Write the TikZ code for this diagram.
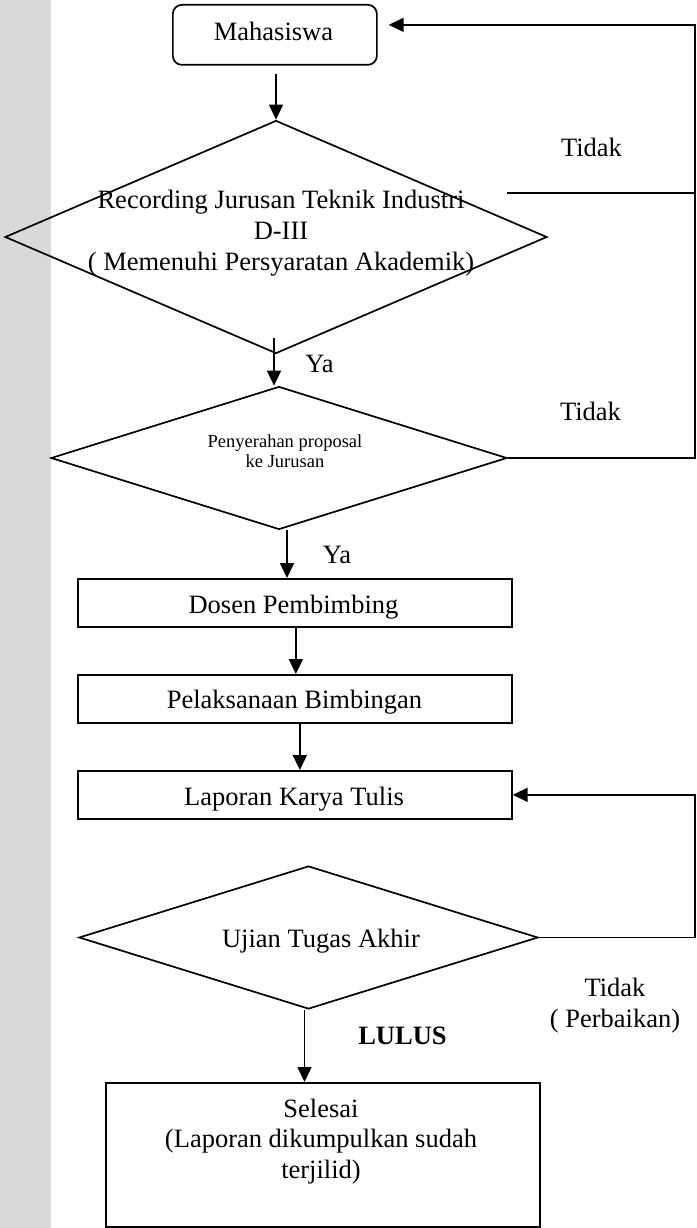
\documentclass[tikz,border=0pt]{standalone}
\usepackage{fontspec}
\setmainfont{Liberation Serif}
\usetikzlibrary{shapes.geometric,arrows.meta}
\definecolor{strip}{HTML}{D9D9D9}

\begin{document}
\begin{tikzpicture}[x=1pt,y=-1pt,
  every node/.style={font=\fontsize{26.5}{31}\selectfont},
  line/.style={line width=1.7pt},
  arr/.style={line width=1.7pt,-{Triangle[length=15pt,width=14pt]}},
  box/.style={draw,line width=1.7pt,rectangle,inner sep=0pt,anchor=north west},
  dec/.style={draw,line width=1.7pt,diamond,inner sep=0pt},
  txt/.style={align=center,inner sep=0pt,anchor=base}]

% page and left margin strip
\fill[white] (0,0) rectangle (696,1228);
\fill[strip] (0,0) rectangle (51,1228);

% shapes
\node[box,rounded corners=9pt,minimum width=204pt,minimum height=60pt] (m) at (172,4) {};
\node[dec,minimum width=542pt,minimum height=233pt] (d1) at (276,237) {};
\node[dec,minimum width=456pt,minimum height=143pt] (d2) at (279,458) {};
\node[box,minimum width=434pt,minimum height=48pt] (dosen) at (77,578) {};
\node[box,minimum width=434pt,minimum height=48pt] (pel) at (77,674) {};
\node[box,minimum width=434pt,minimum height=48pt] (lap) at (77,770) {};
\node[dec,minimum width=459pt,minimum height=143pt] (uji) at (308.5,937.5) {};
\node[box,minimum width=434pt,minimum height=144pt] (sel) at (105,1082) {};

% texts (multi-line nodes sit on the baseline of their last line)
\node[txt] (mt) at (273.5,41) {Mahasiswa};
\node[txt] (d1t) at (281,270) {Recording Jurusan Teknik Industri\\D-III\\( Memenuhi Persyaratan Akademik)};
\node[txt,font=\fontsize{18.5}{20}\selectfont] (d2t) at (285,467) {Penyerahan proposal\\ke Jurusan};
\node[txt] (dosent) at (293.5,613) {Dosen Pembimbing};
\node[txt] (pelt) at (294.5,708) {Pelaksanaan Bimbingan};
\node[txt] (lapt) at (294,805) {Laporan Karya Tulis};
\node[txt] (ujit) at (321,947) {Ujian Tugas Akhir};
\node[txt,font=\fontsize{26.5}{30.5}\selectfont] (selt) at (321,1178) {Selesai\\(Laporan dikumpulkan sudah\\terjilid)};

% branch labels
\node[txt] (tidak1) at (591.5,156) {Tidak};
\node[txt] (tidak2) at (590.5,420) {Tidak};
\node[txt] (ya1) at (319.5,372) {Ya};
\node[txt] (ya2) at (337,563) {Ya};
\node[txt,font=\bfseries\fontsize{26.5}{31}\selectfont] (lulus) at (402.5,1044) {LULUS};
\node[txt] (tidak3) at (615,1027) {Tidak\\( Perbaikan)};

% return line and free branch stub
\coordinate (rx) at (695,0);
\coordinate (t1) at (507,193);
\coordinate (mtip) at ([xshift=11pt,yshift=10pt]m.east);

% main flow
\draw[arr] ([yshift=-8pt]m.south -| d1.north) -- (d1.north);
\draw[arr] ([xshift=-2pt,yshift=16pt]d1.south) -- ([xshift=-2pt]d1.south |- d2.north);
\draw[arr] ([xshift=8pt]d2.south) -- ([xshift=8pt]d2.south |- dosen.north);
\draw[arr] ([xshift=1pt]dosen.south) -- ([xshift=1pt]pel.north);
\draw[arr] ([xshift=5pt]pel.south) -- ([xshift=5pt]lap.north);
\draw[arr] ([xshift=-4pt]uji.south) -- ([xshift=-4pt]uji.south |- sel.north);

% loops back
\draw[line] (t1) -- (t1 -| rx);
\draw[arr] (d2.east) -| (mtip -| rx) -- (mtip);
\draw[arr] (uji.east) -| (lap.east -| rx) -- (lap.east);
\end{tikzpicture}
\end{document}
